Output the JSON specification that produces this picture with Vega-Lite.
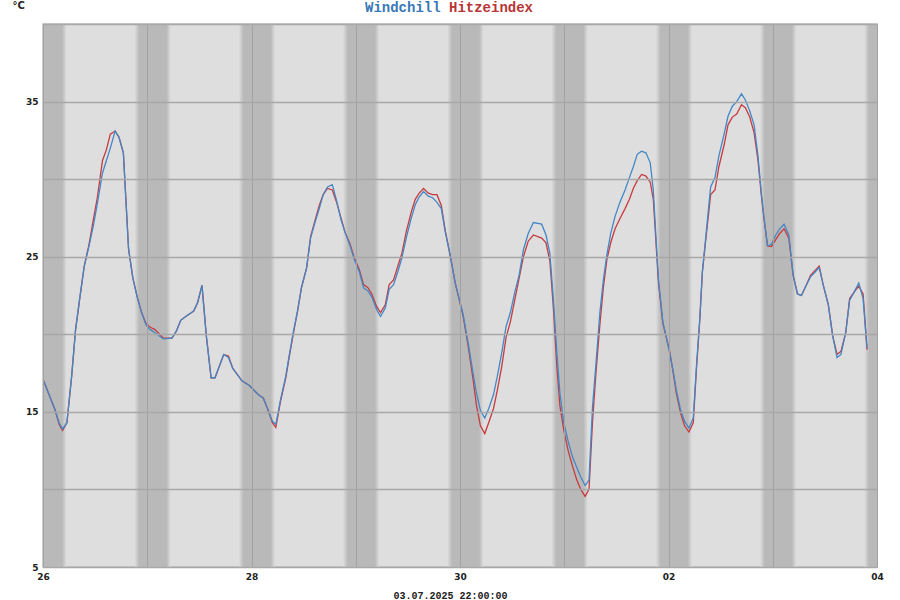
{
  "$schema": "https://vega.github.io/schema/vega-lite/v6.json",
  "width": 834,
  "height": 543,
  "autosize": "none",
  "padding": {"left": 43, "top": 24, "right": 23, "bottom": 33},
  "background": "white",
  "view": {"fill": "#dedede", "stroke": "#bdbdbd", "strokeWidth": 1.5},
  "datasets": {
    "nights": [
      {"start": "2025-06-25T21:05", "end": "2025-06-26T05:25"},
      {"start": "2025-06-26T21:05", "end": "2025-06-27T05:25"},
      {"start": "2025-06-27T21:05", "end": "2025-06-28T05:25"},
      {"start": "2025-06-28T21:05", "end": "2025-06-29T05:25"},
      {"start": "2025-06-29T21:05", "end": "2025-06-30T05:25"},
      {"start": "2025-06-30T21:05", "end": "2025-07-01T05:25"},
      {"start": "2025-07-01T21:05", "end": "2025-07-02T05:25"},
      {"start": "2025-07-02T21:05", "end": "2025-07-03T05:25"},
      {"start": "2025-07-03T21:05", "end": "2025-07-04T05:25"}
    ],
    "temps": [
      {"t": "2025-06-26T00:00", "Windchill": 17.1, "Hitzeindex": 17.1},
      {"t": "2025-06-26T02:48", "Windchill": 15.1, "Hitzeindex": 15.1},
      {"t": "2025-06-26T03:42", "Windchill": 14.3, "Hitzeindex": 14.2},
      {"t": "2025-06-26T04:30", "Windchill": 13.9, "Hitzeindex": 13.8},
      {"t": "2025-06-26T05:30", "Windchill": 14.3, "Hitzeindex": 14.3},
      {"t": "2025-06-26T06:36", "Windchill": 17.3, "Hitzeindex": 17.3},
      {"t": "2025-06-26T07:30", "Windchill": 20.3, "Hitzeindex": 20.3},
      {"t": "2025-06-26T08:30", "Windchill": 22.4, "Hitzeindex": 22.4},
      {"t": "2025-06-26T09:30", "Windchill": 24.4, "Hitzeindex": 24.4},
      {"t": "2025-06-26T10:36", "Windchill": 25.7, "Hitzeindex": 25.8},
      {"t": "2025-06-26T11:36", "Windchill": 27.0, "Hitzeindex": 27.4},
      {"t": "2025-06-26T12:30", "Windchill": 28.4, "Hitzeindex": 28.8},
      {"t": "2025-06-26T13:42", "Windchill": 30.4, "Hitzeindex": 31.2},
      {"t": "2025-06-26T14:36", "Windchill": 31.2, "Hitzeindex": 31.9},
      {"t": "2025-06-26T15:30", "Windchill": 32.0, "Hitzeindex": 32.9},
      {"t": "2025-06-26T16:36", "Windchill": 33.1, "Hitzeindex": 33.1},
      {"t": "2025-06-26T17:30", "Windchill": 32.7, "Hitzeindex": 32.7},
      {"t": "2025-06-26T18:30", "Windchill": 31.7, "Hitzeindex": 31.7},
      {"t": "2025-06-26T19:42", "Windchill": 25.5, "Hitzeindex": 25.5},
      {"t": "2025-06-26T20:42", "Windchill": 23.6, "Hitzeindex": 23.6},
      {"t": "2025-06-26T21:42", "Windchill": 22.4, "Hitzeindex": 22.4},
      {"t": "2025-06-26T22:42", "Windchill": 21.4, "Hitzeindex": 21.4},
      {"t": "2025-06-26T23:42", "Windchill": 20.6, "Hitzeindex": 20.7},
      {"t": "2025-06-27T00:42", "Windchill": 20.3, "Hitzeindex": 20.45},
      {"t": "2025-06-27T01:48", "Windchill": 20.1, "Hitzeindex": 20.3},
      {"t": "2025-06-27T03:42", "Windchill": 19.7, "Hitzeindex": 19.75},
      {"t": "2025-06-27T05:42", "Windchill": 19.75, "Hitzeindex": 19.75},
      {"t": "2025-06-27T06:42", "Windchill": 20.2, "Hitzeindex": 20.2},
      {"t": "2025-06-27T07:42", "Windchill": 20.9, "Hitzeindex": 20.9},
      {"t": "2025-06-27T09:06", "Windchill": 21.2, "Hitzeindex": 21.2},
      {"t": "2025-06-27T10:42", "Windchill": 21.5, "Hitzeindex": 21.5},
      {"t": "2025-06-27T11:36", "Windchill": 22.05, "Hitzeindex": 22.05},
      {"t": "2025-06-27T12:36", "Windchill": 23.15, "Hitzeindex": 23.15},
      {"t": "2025-06-27T13:36", "Windchill": 19.9, "Hitzeindex": 19.9},
      {"t": "2025-06-27T14:42", "Windchill": 17.2, "Hitzeindex": 17.2},
      {"t": "2025-06-27T15:36", "Windchill": 17.2, "Hitzeindex": 17.2},
      {"t": "2025-06-27T17:36", "Windchill": 18.7, "Hitzeindex": 18.7},
      {"t": "2025-06-27T18:42", "Windchill": 18.5, "Hitzeindex": 18.6},
      {"t": "2025-06-27T19:42", "Windchill": 17.8, "Hitzeindex": 17.8},
      {"t": "2025-06-27T21:48", "Windchill": 17.0, "Hitzeindex": 17.0},
      {"t": "2025-06-27T23:30", "Windchill": 16.7, "Hitzeindex": 16.7},
      {"t": "2025-06-28T01:36", "Windchill": 16.1, "Hitzeindex": 16.1},
      {"t": "2025-06-28T02:42", "Windchill": 15.9, "Hitzeindex": 15.9},
      {"t": "2025-06-28T03:42", "Windchill": 15.2, "Hitzeindex": 15.2},
      {"t": "2025-06-28T04:48", "Windchill": 14.4, "Hitzeindex": 14.3},
      {"t": "2025-06-28T05:36", "Windchill": 14.2, "Hitzeindex": 14.0},
      {"t": "2025-06-28T06:42", "Windchill": 15.8, "Hitzeindex": 15.7},
      {"t": "2025-06-28T07:54", "Windchill": 17.3, "Hitzeindex": 17.2},
      {"t": "2025-06-28T08:36", "Windchill": 18.5, "Hitzeindex": 18.4},
      {"t": "2025-06-28T09:36", "Windchill": 20.1, "Hitzeindex": 20.0},
      {"t": "2025-06-28T10:36", "Windchill": 21.5, "Hitzeindex": 21.5},
      {"t": "2025-06-28T11:30", "Windchill": 23.0, "Hitzeindex": 23.0},
      {"t": "2025-06-28T12:42", "Windchill": 24.3, "Hitzeindex": 24.3},
      {"t": "2025-06-28T13:36", "Windchill": 26.2, "Hitzeindex": 26.3},
      {"t": "2025-06-28T14:36", "Windchill": 27.2, "Hitzeindex": 27.3},
      {"t": "2025-06-28T15:36", "Windchill": 28.1, "Hitzeindex": 28.3},
      {"t": "2025-06-28T16:30", "Windchill": 29.0, "Hitzeindex": 29.0},
      {"t": "2025-06-28T17:30", "Windchill": 29.5, "Hitzeindex": 29.4},
      {"t": "2025-06-28T18:36", "Windchill": 29.65, "Hitzeindex": 29.3},
      {"t": "2025-06-28T19:36", "Windchill": 28.6, "Hitzeindex": 28.5},
      {"t": "2025-06-28T20:36", "Windchill": 27.4, "Hitzeindex": 27.5},
      {"t": "2025-06-28T21:30", "Windchill": 26.6, "Hitzeindex": 26.6},
      {"t": "2025-06-28T22:42", "Windchill": 25.7, "Hitzeindex": 25.8},
      {"t": "2025-06-28T23:42", "Windchill": 24.8, "Hitzeindex": 24.9},
      {"t": "2025-06-29T00:48", "Windchill": 24.05, "Hitzeindex": 24.2},
      {"t": "2025-06-29T01:48", "Windchill": 23.0, "Hitzeindex": 23.2},
      {"t": "2025-06-29T02:48", "Windchill": 22.8, "Hitzeindex": 23.0},
      {"t": "2025-06-29T03:42", "Windchill": 22.4, "Hitzeindex": 22.6},
      {"t": "2025-06-29T04:48", "Windchill": 21.6, "Hitzeindex": 21.8},
      {"t": "2025-06-29T05:42", "Windchill": 21.15, "Hitzeindex": 21.4},
      {"t": "2025-06-29T06:48", "Windchill": 21.7, "Hitzeindex": 21.9},
      {"t": "2025-06-29T07:42", "Windchill": 22.9, "Hitzeindex": 23.2},
      {"t": "2025-06-29T08:42", "Windchill": 23.2, "Hitzeindex": 23.5},
      {"t": "2025-06-29T09:42", "Windchill": 24.05, "Hitzeindex": 24.4},
      {"t": "2025-06-29T10:36", "Windchill": 24.9, "Hitzeindex": 25.2},
      {"t": "2025-06-29T11:42", "Windchill": 26.3, "Hitzeindex": 26.7},
      {"t": "2025-06-29T12:48", "Windchill": 27.5, "Hitzeindex": 27.9},
      {"t": "2025-06-29T13:42", "Windchill": 28.35, "Hitzeindex": 28.7},
      {"t": "2025-06-29T14:36", "Windchill": 28.85, "Hitzeindex": 29.1},
      {"t": "2025-06-29T15:36", "Windchill": 29.2, "Hitzeindex": 29.4},
      {"t": "2025-06-29T16:42", "Windchill": 28.9, "Hitzeindex": 29.1},
      {"t": "2025-06-29T17:42", "Windchill": 28.8, "Hitzeindex": 29.0},
      {"t": "2025-06-29T18:42", "Windchill": 28.5, "Hitzeindex": 29.0},
      {"t": "2025-06-29T19:42", "Windchill": 28.1, "Hitzeindex": 28.3},
      {"t": "2025-06-29T20:36", "Windchill": 26.6, "Hitzeindex": 26.7},
      {"t": "2025-06-29T21:48", "Windchill": 25.0, "Hitzeindex": 25.0},
      {"t": "2025-06-29T22:54", "Windchill": 23.3, "Hitzeindex": 23.3},
      {"t": "2025-06-30T00:42", "Windchill": 21.3, "Hitzeindex": 21.2},
      {"t": "2025-06-30T01:54", "Windchill": 19.4, "Hitzeindex": 19.2},
      {"t": "2025-06-30T03:00", "Windchill": 17.5, "Hitzeindex": 17.1},
      {"t": "2025-06-30T03:48", "Windchill": 16.2, "Hitzeindex": 15.4},
      {"t": "2025-06-30T04:42", "Windchill": 15.1, "Hitzeindex": 14.1},
      {"t": "2025-06-30T05:42", "Windchill": 14.6, "Hitzeindex": 13.6},
      {"t": "2025-06-30T06:36", "Windchill": 15.2, "Hitzeindex": 14.3},
      {"t": "2025-06-30T07:42", "Windchill": 16.1, "Hitzeindex": 15.2},
      {"t": "2025-06-30T08:36", "Windchill": 17.3, "Hitzeindex": 16.4},
      {"t": "2025-06-30T09:36", "Windchill": 18.8, "Hitzeindex": 17.9},
      {"t": "2025-06-30T10:36", "Windchill": 20.5, "Hitzeindex": 19.8},
      {"t": "2025-06-30T11:36", "Windchill": 21.4, "Hitzeindex": 20.8},
      {"t": "2025-06-30T12:36", "Windchill": 22.7, "Hitzeindex": 22.2},
      {"t": "2025-06-30T13:36", "Windchill": 23.8, "Hitzeindex": 23.6},
      {"t": "2025-06-30T14:36", "Windchill": 25.45, "Hitzeindex": 25.0},
      {"t": "2025-06-30T15:42", "Windchill": 26.5, "Hitzeindex": 26.0},
      {"t": "2025-06-30T16:54", "Windchill": 27.2, "Hitzeindex": 26.4},
      {"t": "2025-06-30T18:48", "Windchill": 27.1, "Hitzeindex": 26.2},
      {"t": "2025-06-30T19:48", "Windchill": 26.4, "Hitzeindex": 25.9},
      {"t": "2025-06-30T20:42", "Windchill": 25.2, "Hitzeindex": 24.7},
      {"t": "2025-06-30T21:30", "Windchill": 22.2, "Hitzeindex": 21.7},
      {"t": "2025-06-30T22:18", "Windchill": 18.8, "Hitzeindex": 17.9},
      {"t": "2025-06-30T23:00", "Windchill": 16.2, "Hitzeindex": 15.4},
      {"t": "2025-06-30T23:54", "Windchill": 14.3, "Hitzeindex": 13.8},
      {"t": "2025-07-01T00:54", "Windchill": 13.1, "Hitzeindex": 12.5},
      {"t": "2025-07-01T01:54", "Windchill": 12.1, "Hitzeindex": 11.5},
      {"t": "2025-07-01T02:54", "Windchill": 11.4, "Hitzeindex": 10.6},
      {"t": "2025-07-01T03:48", "Windchill": 10.8, "Hitzeindex": 10.0},
      {"t": "2025-07-01T04:48", "Windchill": 10.25, "Hitzeindex": 9.55},
      {"t": "2025-07-01T05:42", "Windchill": 10.6, "Hitzeindex": 10.0},
      {"t": "2025-07-01T06:30", "Windchill": 15.3, "Hitzeindex": 14.3},
      {"t": "2025-07-01T07:18", "Windchill": 18.1, "Hitzeindex": 17.5},
      {"t": "2025-07-01T08:12", "Windchill": 21.4, "Hitzeindex": 20.6},
      {"t": "2025-07-01T09:00", "Windchill": 23.5, "Hitzeindex": 23.0},
      {"t": "2025-07-01T09:48", "Windchill": 25.1, "Hitzeindex": 24.8},
      {"t": "2025-07-01T10:42", "Windchill": 26.5, "Hitzeindex": 25.9},
      {"t": "2025-07-01T11:42", "Windchill": 27.6, "Hitzeindex": 26.8},
      {"t": "2025-07-01T12:48", "Windchill": 28.5, "Hitzeindex": 27.45},
      {"t": "2025-07-01T14:00", "Windchill": 29.3, "Hitzeindex": 28.1},
      {"t": "2025-07-01T15:00", "Windchill": 30.1, "Hitzeindex": 28.7},
      {"t": "2025-07-01T15:54", "Windchill": 30.8, "Hitzeindex": 29.4},
      {"t": "2025-07-01T16:48", "Windchill": 31.6, "Hitzeindex": 29.9},
      {"t": "2025-07-01T17:48", "Windchill": 31.8, "Hitzeindex": 30.3},
      {"t": "2025-07-01T18:48", "Windchill": 31.7, "Hitzeindex": 30.2},
      {"t": "2025-07-01T19:48", "Windchill": 31.05, "Hitzeindex": 29.8},
      {"t": "2025-07-01T20:30", "Windchill": 29.3, "Hitzeindex": 28.7},
      {"t": "2025-07-01T21:06", "Windchill": 26.3, "Hitzeindex": 26.0},
      {"t": "2025-07-01T21:42", "Windchill": 23.5, "Hitzeindex": 23.3},
      {"t": "2025-07-01T22:42", "Windchill": 20.8, "Hitzeindex": 20.7},
      {"t": "2025-07-02T00:12", "Windchill": 18.9, "Hitzeindex": 19.0},
      {"t": "2025-07-02T01:06", "Windchill": 17.6, "Hitzeindex": 17.5},
      {"t": "2025-07-02T01:48", "Windchill": 16.4, "Hitzeindex": 16.2},
      {"t": "2025-07-02T02:48", "Windchill": 15.1, "Hitzeindex": 14.9},
      {"t": "2025-07-02T03:42", "Windchill": 14.4, "Hitzeindex": 14.1},
      {"t": "2025-07-02T04:42", "Windchill": 13.95, "Hitzeindex": 13.7},
      {"t": "2025-07-02T05:42", "Windchill": 14.6, "Hitzeindex": 14.3},
      {"t": "2025-07-02T06:24", "Windchill": 17.8, "Hitzeindex": 17.6},
      {"t": "2025-07-02T07:12", "Windchill": 21.0, "Hitzeindex": 20.9},
      {"t": "2025-07-02T07:48", "Windchill": 24.05, "Hitzeindex": 24.0},
      {"t": "2025-07-02T08:42", "Windchill": 26.6, "Hitzeindex": 26.4},
      {"t": "2025-07-02T09:42", "Windchill": 29.5, "Hitzeindex": 29.0},
      {"t": "2025-07-02T10:42", "Windchill": 30.1, "Hitzeindex": 29.3},
      {"t": "2025-07-02T11:36", "Windchill": 31.5, "Hitzeindex": 30.8},
      {"t": "2025-07-02T12:48", "Windchill": 32.9, "Hitzeindex": 32.2},
      {"t": "2025-07-02T13:42", "Windchill": 34.05, "Hitzeindex": 33.5},
      {"t": "2025-07-02T14:42", "Windchill": 34.7, "Hitzeindex": 34.0},
      {"t": "2025-07-02T15:42", "Windchill": 35.0, "Hitzeindex": 34.2},
      {"t": "2025-07-02T16:48", "Windchill": 35.5, "Hitzeindex": 34.8},
      {"t": "2025-07-02T17:42", "Windchill": 35.1, "Hitzeindex": 34.6},
      {"t": "2025-07-02T18:42", "Windchill": 34.4, "Hitzeindex": 34.0},
      {"t": "2025-07-02T19:42", "Windchill": 33.5, "Hitzeindex": 33.0},
      {"t": "2025-07-02T20:36", "Windchill": 31.5, "Hitzeindex": 31.2},
      {"t": "2025-07-02T21:24", "Windchill": 29.0, "Hitzeindex": 28.9},
      {"t": "2025-07-02T22:00", "Windchill": 27.5, "Hitzeindex": 27.4},
      {"t": "2025-07-02T22:48", "Windchill": 25.7, "Hitzeindex": 25.7},
      {"t": "2025-07-02T23:42", "Windchill": 25.8, "Hitzeindex": 25.65},
      {"t": "2025-07-03T00:42", "Windchill": 26.4, "Hitzeindex": 26.1},
      {"t": "2025-07-03T01:36", "Windchill": 26.8, "Hitzeindex": 26.5},
      {"t": "2025-07-03T02:36", "Windchill": 27.1, "Hitzeindex": 26.8},
      {"t": "2025-07-03T03:42", "Windchill": 26.4, "Hitzeindex": 26.2},
      {"t": "2025-07-03T04:42", "Windchill": 23.8, "Hitzeindex": 23.8},
      {"t": "2025-07-03T05:42", "Windchill": 22.6, "Hitzeindex": 22.6},
      {"t": "2025-07-03T06:36", "Windchill": 22.5, "Hitzeindex": 22.5},
      {"t": "2025-07-03T07:36", "Windchill": 23.1, "Hitzeindex": 23.1},
      {"t": "2025-07-03T08:42", "Windchill": 23.7, "Hitzeindex": 23.8},
      {"t": "2025-07-03T09:42", "Windchill": 24.0, "Hitzeindex": 24.1},
      {"t": "2025-07-03T10:42", "Windchill": 24.3, "Hitzeindex": 24.4},
      {"t": "2025-07-03T11:36", "Windchill": 23.2, "Hitzeindex": 23.2},
      {"t": "2025-07-03T12:48", "Windchill": 21.9, "Hitzeindex": 21.9},
      {"t": "2025-07-03T13:48", "Windchill": 19.9, "Hitzeindex": 19.9},
      {"t": "2025-07-03T14:48", "Windchill": 18.5, "Hitzeindex": 18.7},
      {"t": "2025-07-03T15:42", "Windchill": 18.7, "Hitzeindex": 18.9},
      {"t": "2025-07-03T16:48", "Windchill": 20.1, "Hitzeindex": 20.1},
      {"t": "2025-07-03T17:42", "Windchill": 22.2, "Hitzeindex": 22.3},
      {"t": "2025-07-03T18:42", "Windchill": 22.7, "Hitzeindex": 22.7},
      {"t": "2025-07-03T19:48", "Windchill": 23.3, "Hitzeindex": 23.1},
      {"t": "2025-07-03T20:48", "Windchill": 22.3, "Hitzeindex": 22.6},
      {"t": "2025-07-03T21:42", "Windchill": 19.1, "Hitzeindex": 19.0}
    ]
  },
  "layer": [
    {
      "data": {"name": "nights"},
      "mark": {
        "type": "rect",
        "clip": true,
        "fill": {
          "gradient": "linear",
          "x1": 0, "y1": 0, "x2": 1, "y2": 0,
          "stops": [
            {"offset": 0, "color": "#dedede"},
            {"offset": 0.13, "color": "#b9b9b9"},
            {"offset": 0.88, "color": "#b9b9b9"},
            {"offset": 1, "color": "#dedede"}
          ]
        }
      },
      "encoding": {
        "x": {"field": "start", "type": "temporal"},
        "x2": {"field": "end"}
      }
    },
    {
      "data": {"name": "temps"},
      "transform": [{"fold": ["Hitzeindex", "Windchill"], "as": ["series", "value"]}],
      "mark": {"type": "line", "strokeWidth": 1.3, "clip": true},
      "encoding": {
        "x": {
          "field": "t",
          "type": "temporal",
          "scale": {"domain": [{"year": 2025, "month": "jun", "date": 26}, {"year": 2025, "month": "jul", "date": 4}]},
          "axis": {
            "values": [
              {"year": 2025, "month": "jun", "date": 26},
              {"year": 2025, "month": "jun", "date": 27},
              {"year": 2025, "month": "jun", "date": 28},
              {"year": 2025, "month": "jun", "date": 29},
              {"year": 2025, "month": "jun", "date": 30},
              {"year": 2025, "month": "jul", "date": 1},
              {"year": 2025, "month": "jul", "date": 2},
              {"year": 2025, "month": "jul", "date": 3},
              {"year": 2025, "month": "jul", "date": 4}
            ],
            "labelExpr": "date(datum.value) % 2 == 0 ? timeFormat(datum.value, '%d') : ''",
            "labelFont": "DejaVu Sans",
            "labelFontWeight": "bold",
            "labelFontSize": 9,
            "labelColor": "#222222",
            "labelPadding": 5,
            "labelFlush": false,
            "labelOverlap": false,
            "labelBound": false,
            "domain": false,
            "ticks": false,
            "grid": true,
            "gridColor": "#a2a2a2",
            "gridWidth": 1,
            "zindex": 1,
            "title": "03.07.2025 22:00:00",
            "titleFont": "Liberation Mono",
            "titleFontSize": 10,
            "titleFontWeight": "bold",
            "titleColor": "#222222",
            "titleX": 407,
            "titleY": 28,
            "titleAlign": "center",
            "titleBaseline": "middle"
          }
        },
        "y": {
          "field": "value",
          "type": "quantitative",
          "scale": {"domain": [5, 40], "nice": false, "zero": false},
          "axis": {
            "values": [5, 10, 15, 20, 25, 30, 35, 40],
            "labelExpr": "datum.value % 10 == 5 ? datum.label : ''",
            "labelFont": "DejaVu Sans",
            "labelFontWeight": "bold",
            "labelFontSize": 9,
            "labelColor": "#222222",
            "labelPadding": 5,
            "domain": false,
            "ticks": false,
            "grid": true,
            "gridColor": "#a8a8a8",
            "gridWidth": 1.5,
            "zindex": 1,
            "title": "°C",
            "titleAngle": 0,
            "titleAlign": "left",
            "titleBaseline": "middle",
            "titleX": -31,
            "titleY": -18.5,
            "titleFont": "DejaVu Sans",
            "titleFontSize": 10,
            "titleFontWeight": "bold",
            "titleColor": "#222222"
          }
        },
        "color": {
          "field": "series",
          "type": "nominal",
          "scale": {"domain": ["Windchill", "Hitzeindex"], "range": ["#4387c6", "#c73a3e"]},
          "legend": {
            "orient": "none",
            "legendX": 314,
            "legendY": -23,
            "direction": "horizontal",
            "title": null,
            "symbolSize": 0,
            "symbolStrokeWidth": 0,
            "symbolOpacity": 0,
            "labelOffset": -6,
            "columnPadding": 0,
            "labelFont": "Liberation Mono",
            "labelFontSize": 14,
            "labelFontWeight": "bold",
            "encode": {
              "labels": {
                "update": {
                  "fill": {"signal": "datum.value === 'Windchill' ? '#3878b8' : '#b83535'"}
                }
              }
            }
          }
        }
      }
    }
  ]
}
